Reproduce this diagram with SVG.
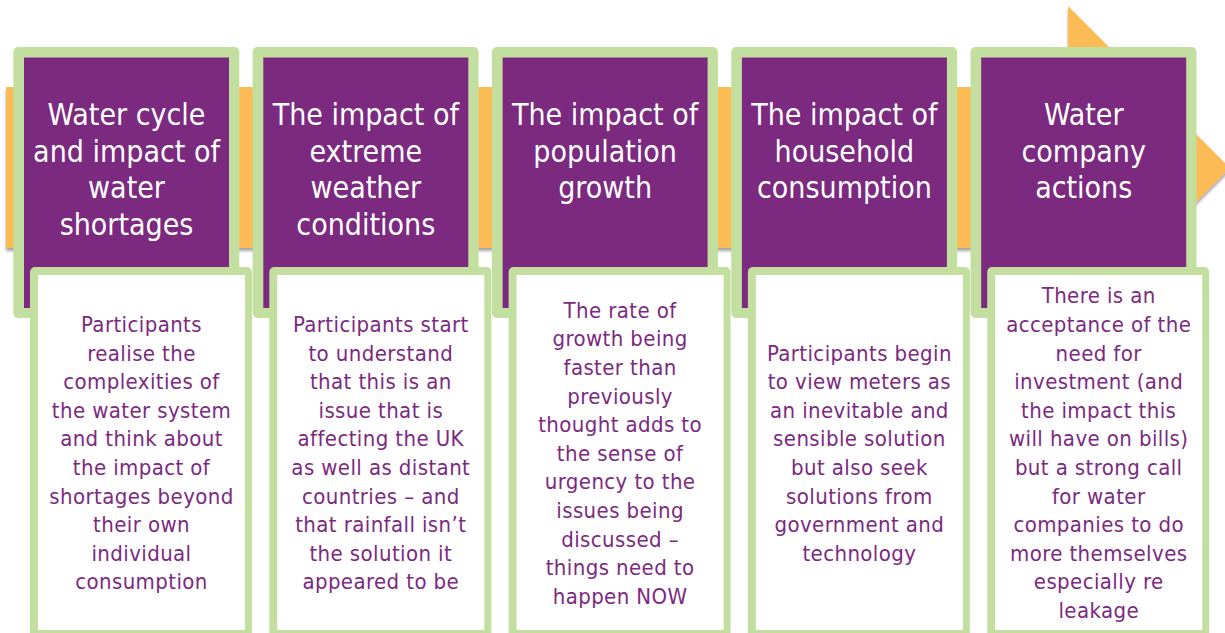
<svg xmlns="http://www.w3.org/2000/svg" width="1225" height="633" viewBox="0 0 1225 633">
<defs>
<filter id="sh" x="-5%" y="-5%" width="110%" height="115%">
<feDropShadow dx="0" dy="3" stdDeviation="1.5" flood-color="#000" flood-opacity="0.35"/>
</filter>
</defs>
<style>
.g{fill:#C3DFA0}
.p{fill:#7B2A80}
.w{fill:#FFFFFF}
.tt{font-family:"DejaVu Sans Condensed","DejaVu Sans",sans-serif;font-size:30px;fill:#FFFFFF;text-anchor:middle}
.bt{font-family:"DejaVu Sans Condensed","DejaVu Sans",sans-serif;font-size:22px;letter-spacing:0.4px;fill:#7B2A80;text-anchor:middle}
</style>
<rect width="1225" height="633" fill="#FFFFFF"/>
<g id="arrow">
<polygon points="6,87 1068,87 1068,6 1230,168 1068,330 1068,248 6,248" fill="#FDBB57" filter="url(#sh)"/>
</g>
<g id="stage1">
<rect class="g" x="13.3" y="47" width="226" height="271" rx="5"/>
<rect class="p" x="24" y="57.5" width="205" height="250.5"/>
<text class="tt"><tspan x="126.5" y="125">Water cycle</tspan><tspan x="126.5" y="161.7">and impact of</tspan><tspan x="126.5" y="198.4">water</tspan><tspan x="126.5" y="235.1">shortages</tspan></text>
</g>
<g id="stage2">
<rect class="g" x="252.6" y="47" width="226" height="271" rx="5"/>
<rect class="p" x="263.3" y="57.5" width="205" height="250.5"/>
<text class="tt"><tspan x="365.8" y="125">The impact of</tspan><tspan x="365.8" y="161.7">extreme</tspan><tspan x="365.8" y="198.4">weather</tspan><tspan x="365.8" y="235.1">conditions</tspan></text>
</g>
<g id="stage3">
<rect class="g" x="491.9" y="47" width="226" height="271" rx="5"/>
<rect class="p" x="502.6" y="57.5" width="205" height="250.5"/>
<text class="tt"><tspan x="605.1" y="125">The impact of</tspan><tspan x="605.1" y="161.7">population</tspan><tspan x="605.1" y="198.4">growth</tspan></text>
</g>
<g id="stage4">
<rect class="g" x="731.2" y="47" width="226" height="271" rx="5"/>
<rect class="p" x="741.9" y="57.5" width="205" height="250.5"/>
<text class="tt"><tspan x="844.4" y="125">The impact of</tspan><tspan x="844.4" y="161.7">household</tspan><tspan x="844.4" y="198.4">consumption</tspan></text>
</g>
<g id="stage5">
<rect class="g" x="970.5" y="47" width="226" height="271" rx="5"/>
<rect class="p" x="981.2" y="57.5" width="205" height="250.5"/>
<text class="tt"><tspan x="1083.7" y="125">Water</tspan><tspan x="1083.7" y="161.7">company</tspan><tspan x="1083.7" y="198.4">actions</tspan></text>
</g>
<g id="detail1">
<rect class="g" x="30" y="267" width="222" height="375" rx="5"/>
<rect class="w" x="38" y="275" width="207" height="355"/>
<text class="bt"><tspan x="141.5" y="332">Participants</tspan><tspan x="141.5" y="360.6">realise the</tspan><tspan x="141.5" y="389.2">complexities of</tspan><tspan x="141.5" y="417.8">the water system</tspan><tspan x="141.5" y="446.4">and think about</tspan><tspan x="141.5" y="475">the impact of</tspan><tspan x="141.5" y="503.6">shortages beyond</tspan><tspan x="141.5" y="532.2">their own</tspan><tspan x="141.5" y="560.8">individual</tspan><tspan x="141.5" y="589.4">consumption</tspan></text>
</g>
<g id="detail2">
<rect class="g" x="269.3" y="267" width="222" height="375" rx="5"/>
<rect class="w" x="277.3" y="275" width="207" height="355"/>
<text class="bt"><tspan x="380.8" y="332">Participants start</tspan><tspan x="380.8" y="360.6">to understand</tspan><tspan x="380.8" y="389.2">that this is an</tspan><tspan x="380.8" y="417.8">issue that is</tspan><tspan x="380.8" y="446.4">affecting the UK</tspan><tspan x="380.8" y="475">as well as distant</tspan><tspan x="380.8" y="503.6">countries – and</tspan><tspan x="380.8" y="532.2">that rainfall isn’t</tspan><tspan x="380.8" y="560.8">the solution it</tspan><tspan x="380.8" y="589.4">appeared to be</tspan></text>
</g>
<g id="detail3">
<rect class="g" x="508.6" y="267" width="222" height="375" rx="5"/>
<rect class="w" x="516.6" y="275" width="207" height="355"/>
<text class="bt"><tspan x="620.1" y="317.7">The rate of</tspan><tspan x="620.1" y="346.3">growth being</tspan><tspan x="620.1" y="374.9">faster than</tspan><tspan x="620.1" y="403.5">previously</tspan><tspan x="620.1" y="432.1">thought adds to</tspan><tspan x="620.1" y="460.7">the sense of</tspan><tspan x="620.1" y="489.3">urgency to the</tspan><tspan x="620.1" y="517.9">issues being</tspan><tspan x="620.1" y="546.5">discussed –</tspan><tspan x="620.1" y="575.1">things need to</tspan><tspan x="620.1" y="603.7">happen NOW</tspan></text>
</g>
<g id="detail4">
<rect class="g" x="747.9" y="267" width="222" height="375" rx="5"/>
<rect class="w" x="755.9" y="275" width="207" height="355"/>
<text class="bt"><tspan x="859.4" y="360.6">Participants begin</tspan><tspan x="859.4" y="389.2">to view meters as</tspan><tspan x="859.4" y="417.8">an inevitable and</tspan><tspan x="859.4" y="446.4">sensible solution</tspan><tspan x="859.4" y="475">but also seek</tspan><tspan x="859.4" y="503.6">solutions from</tspan><tspan x="859.4" y="532.2">government and</tspan><tspan x="859.4" y="560.8">technology</tspan></text>
</g>
<g id="detail5">
<rect class="g" x="987.2" y="267" width="222" height="375" rx="5"/>
<rect class="w" x="995.2" y="275" width="207" height="355"/>
<text class="bt"><tspan x="1098.7" y="303.4">There is an</tspan><tspan x="1098.7" y="332">acceptance of the</tspan><tspan x="1098.7" y="360.6">need for</tspan><tspan x="1098.7" y="389.2">investment (and</tspan><tspan x="1098.7" y="417.8">the impact this</tspan><tspan x="1098.7" y="446.4">will have on bills)</tspan><tspan x="1098.7" y="475">but a strong call</tspan><tspan x="1098.7" y="503.6">for water</tspan><tspan x="1098.7" y="532.2">companies to do</tspan><tspan x="1098.7" y="560.8">more themselves</tspan><tspan x="1098.7" y="589.4">especially re</tspan><tspan x="1098.7" y="618">leakage</tspan></text>
</g>
</svg>
